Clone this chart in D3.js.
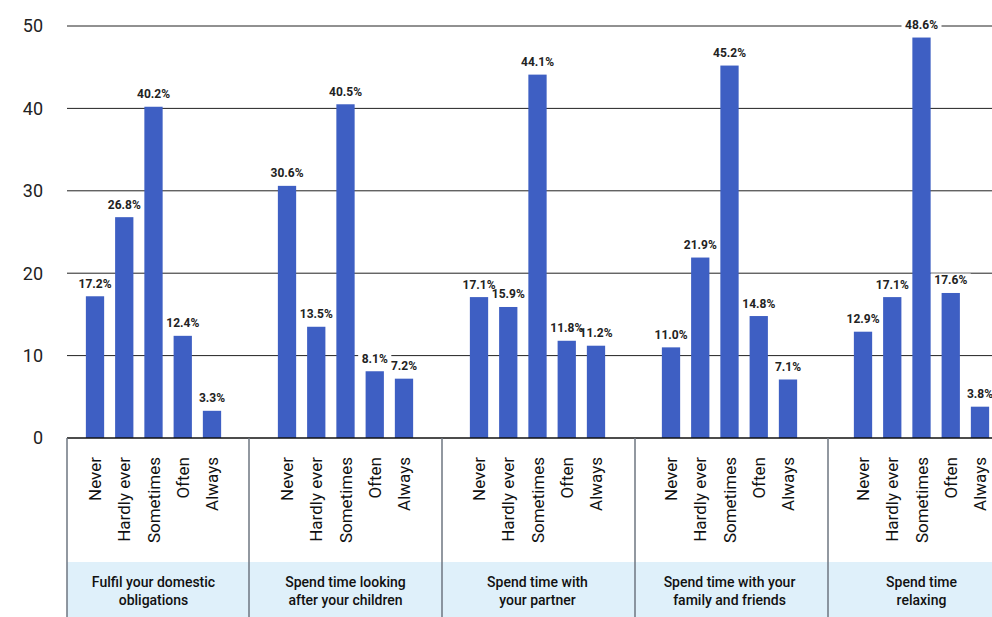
<!DOCTYPE html>
<html>
<head>
<meta charset="utf-8">
<script src="https://cdn.jsdelivr.net/npm/d3@7"></script>
<style>
  body { margin: 0; background: #fff; }
  svg { display: block; font-family: Roboto, "Noto Sans", sans-serif; }
</style>
</head>
<body>
<div id="chartContainer"></div>
<script>
const groups = [
  ["Fulfil your domestic", "obligations"],
  ["Spend time looking", "after your children"],
  ["Spend time with", "your partner"],
  ["Spend time with your", "family and friends"],
  ["Spend time", "relaxing"]
];
const answers = ["Never", "Hardly ever", "Sometimes", "Often", "Always"];
const values = [
  [17.2, 26.8, 40.2, 12.4, 3.3],
  [30.6, 13.5, 40.5, 8.1, 7.2],
  [17.1, 15.9, 44.1, 11.8, 11.2],
  [11.0, 21.9, 45.2, 14.8, 7.1],
  [12.9, 17.1, 48.6, 17.6, 3.8]
];
const yTicks = [0, 10, 20, 30, 40, 50];

const width = 992, height = 617;
const plotLeft = 67, plotRight = 992;
const zeroY = 438, topY = 26;

const svg = d3.select("#chartContainer")
  .append("svg")
  .attr("width", width)
  .attr("height", height);

const yScale = d3.scaleLinear().domain([0, 50]).range([zeroY, topY]);

const groupScale = d3.scaleBand()
  .domain(d3.range(groups.length))
  .range([57.5, 57.5 + 192 * groups.length]);

const xScale = d3.scaleBand()
  .domain(answers)
  .range([0, groupScale.bandwidth()])
  .paddingInner(0.375)
  .paddingOuter(0.97);

// gridlines
svg.append("g")
  .selectAll("line")
  .data(yTicks.filter(d => d > 0))
  .enter()
  .append("line")
  .attr("x1", plotLeft)
  .attr("x2", plotRight)
  .attr("y1", d => yScale(d))
  .attr("y2", d => yScale(d))
  .attr("stroke", "#222")
  .attr("stroke-width", 1);

// y tick labels
svg.append("g")
  .selectAll("text")
  .data(yTicks)
  .enter()
  .append("text")
  .attr("x", 43)
  .attr("y", d => yScale(d))
  .attr("dy", "0.35em")
  .attr("text-anchor", "end")
  .attr("font-size", "18px")
  .attr("fill", "#222")
  .text(d => d);

// bottom band
svg.append("rect")
  .attr("x", plotLeft)
  .attr("y", 562)
  .attr("width", plotRight - plotLeft)
  .attr("height", height - 562)
  .attr("fill", "#dff0fa");

const flat = [];
values.forEach((row, gi) => row.forEach((v, ai) => flat.push({ g: gi, a: answers[ai], v: v })));
const barX = d => groupScale(d.g) + xScale(d.a);
const labelPos = d => `translate(${barX(d) + xScale.bandwidth() / 2}, ${yScale(d.v) - 8.5})`;

// value label backings first, then bars, then the label texts
const bgLayer = svg.append("g");

svg.append("g")
  .selectAll("rect")
  .data(flat)
  .enter()
  .append("rect")
  .attr("x", barX)
  .attr("y", d => yScale(d.v))
  .attr("width", xScale.bandwidth())
  .attr("height", d => zeroY - yScale(d.v))
  .attr("fill", "#3e5fc3");

const labelText = svg.append("g")
  .selectAll("text")
  .data(flat)
  .enter()
  .append("text")
  .attr("transform", labelPos)
  .attr("text-anchor", "middle")
  .attr("font-size", "12px")
  .attr("font-weight", "bold")
  .attr("fill", "#222")
  .text(d => d.v.toFixed(1) + "%");

const widths = labelText.nodes().map(n => n.getComputedTextLength());

bgLayer.selectAll("rect")
  .data(flat)
  .enter()
  .append("rect")
  .attr("transform", labelPos)
  .attr("x", (d, i) => -widths[i] / 2 - 3.5)
  .attr("y", -11)
  .attr("width", (d, i) => widths[i] + 7)
  .attr("height", 13)
  .attr("fill", "#fff");

// zero axis line
svg.append("line")
  .attr("x1", plotLeft)
  .attr("x2", plotRight)
  .attr("y1", zeroY)
  .attr("y2", zeroY)
  .attr("stroke", "#111")
  .attr("stroke-width", 1.5);

// category labels
svg.append("g")
  .selectAll("text")
  .data(flat)
  .enter()
  .append("text")
  .attr("transform", d => `translate(${barX(d) + xScale.bandwidth() / 2}, 457) rotate(-90)`)
  .attr("dy", "0.36em")
  .attr("text-anchor", "end")
  .attr("font-size", "17px")
  .attr("fill", "#111")
  .text(d => d.a);

// group separators
const seps = [plotLeft].concat(d3.range(1, groups.length).map(i => groupScale(i) - 1.5 + i));
svg.append("g")
  .selectAll("line")
  .data(seps)
  .enter()
  .append("line")
  .attr("x1", d => d)
  .attr("x2", d => d)
  .attr("y1", zeroY)
  .attr("y2", height)
  .attr("stroke", "#6e7680")
  .attr("stroke-width", 1.5);

// group labels
const glabels = svg.append("g")
  .selectAll("text")
  .data(groups)
  .enter()
  .append("text")
  .attr("x", (d, i) => groupScale(i) + groupScale.bandwidth() / 2)
  .attr("y", 582)
  .attr("text-anchor", "middle")
  .attr("font-size", "14px")
  .attr("font-weight", 500)
  .attr("fill", "#111");

glabels.selectAll("tspan")
  .data(d => d)
  .enter()
  .append("tspan")
  .attr("x", function () { return d3.select(this.parentNode).attr("x"); })
  .attr("dy", (d, i) => i === 0 ? "0.35em" : "18px")
  .text(d => d);
</script>
</body>
</html>
